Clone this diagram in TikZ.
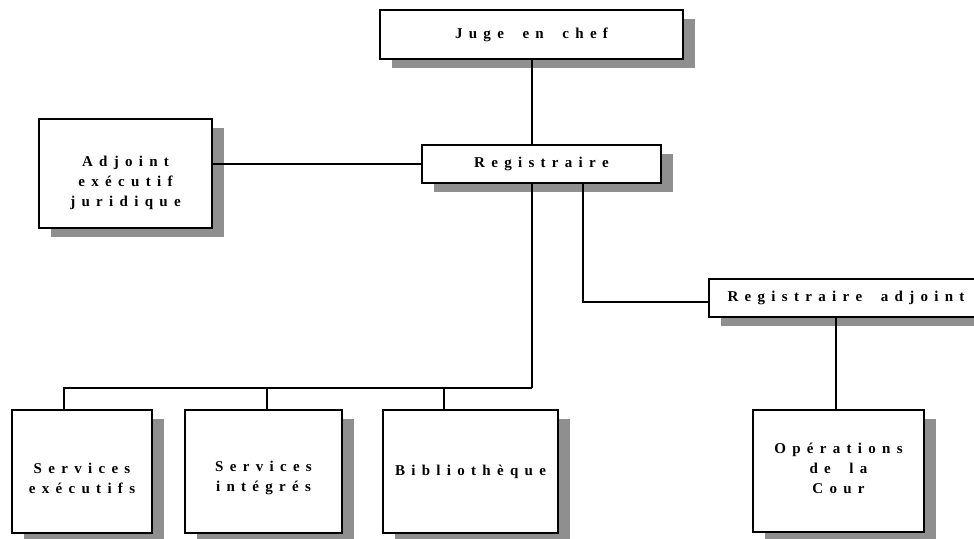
\documentclass[tikz,border=0pt]{standalone}
\usepackage{fontspec}
\newfontfamily\orgfont{Liberation Serif}[Ligatures=NoCommon]
\newlength\lsp
\setlength\lsp{6.3pt}
\newcommand\wgap{\hspace{6pt}}
% spread the letters of a word apart
\newcommand\spaced[1]{\spacedfirst#1\relax}
\def\spacedfirst#1{#1\spacedrest}
\def\spacedrest#1{\ifx#1\relax\else\hspace{\lsp}#1\expandafter\spacedrest\fi}
\usetikzlibrary{shadows}

\begin{document}
\begin{tikzpicture}[x=1pt,y=-1pt,
  unit/.style={draw,line width=1.6pt,fill=white,align=center,inner sep=0pt,
    font=\orgfont\bfseries\fontsize{15}{20}\selectfont,
    drop shadow={shadow xshift=12pt,shadow yshift=-8.5pt,fill=black!44,opacity=1}},
  link/.style={line width=1.5pt}]
\useasboundingbox (0,0) rectangle (974,538);

% Top of the chart
\node[unit,minimum width=303pt,minimum height=49pt] (judge) at (531.5,34.5) {\spaced{Juge\wgap en\wgap chef}};
\node[unit,minimum width=239pt,minimum height=38pt] (reg) at (541.5,164) {\spaced{Registraire}};
\node[unit,minimum width=173pt,minimum height=109pt] (adj) at (125.5,173.5)
  {\rule{0pt}{29pt}\spaced{Adjoint}\\\spaced{exécutif}\\\spaced{juridique}};

% Right branch
\node[unit,minimum width=274pt,minimum height=38pt] (regadj) at (846,298) {\spaced{Registraire\wgap adjoint}};
\node[unit,minimum width=171pt,minimum height=122pt] (ops) at (838.5,471)
  {\spaced{Opérations}\\\spaced{de\wgap la}\\\spaced{Cour}\rule[-6pt]{0pt}{6pt}};

% Bottom row
\node[unit,minimum width=140pt,minimum height=123pt] (se) at (82,471.5)
  {\rule{0pt}{24pt}\spaced{Services}\\\spaced{exécutifs}};
\node[unit,minimum width=157pt,minimum height=123pt] (si) at (263.5,471.5)
  {\rule{0pt}{24pt}\spaced{Services}\\\spaced{intégrés}};
\node[unit,minimum width=175pt,minimum height=123pt] (bib) at (470.5,471.5) {\spaced{Bibliothèque}};

% Links
\draw[link] ([xshift=0.5pt]judge.south) -- ([xshift=0.5pt]judge.south |- reg.north);
\draw[link] (adj.east |- reg.west) -- (reg.west);
\draw[link] ([xshift=41.5pt]reg.south) |- ([yshift=-4pt]regadj.west);
\draw[link] ([xshift=-2.5pt]ops.north |- regadj.south) -- ([xshift=-2.5pt]ops.north);

% Bus to the bottom row
\coordinate (bus) at (532,388);
\draw[link] (reg.south -| bus) -- (bus);
\draw[link] ([xshift=-18pt]se.north) |- (bus);
\foreach \n/\dx in {si/3.5,bib/-26.5}
  \draw[link] ([xshift=\dx pt]\n.north) -- ([xshift=\dx pt]\n.north |- bus);

\end{tikzpicture}
\end{document}
